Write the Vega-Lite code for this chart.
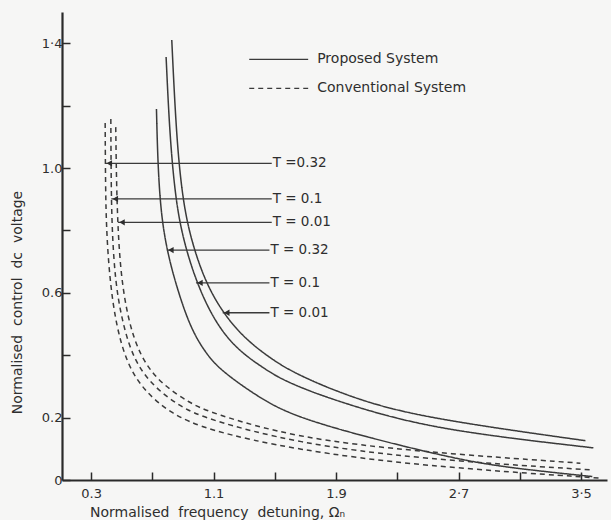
{
  "$schema": "https://vega.github.io/schema/vega-lite/v6.json",
  "width": 545,
  "height": 468,
  "autosize": {"type": "none"},
  "padding": {"left": 62, "top": 12, "right": 4, "bottom": 40},
  "background": "#f6f6f5",
  "view": {"stroke": null},
  "config": {
    "font": "DejaVu Sans",
    "text": {"font": "DejaVu Sans", "fontSize": 13, "color": "#2e2e2e"},
    "axis": {
      "labelFont": "DejaVu Sans", "titleFont": "DejaVu Sans",
      "labelFontSize": 13, "titleFontSize": 14,
      "labelColor": "#2e2e2e", "titleColor": "#2e2e2e",
      "titleFontWeight": "normal",
      "domainColor": "#2a2a2a", "domainWidth": 2.2,
      "tickColor": "#2a2a2a", "tickWidth": 1.5,
      "grid": false
    }
  },
  "datasets": {
    "curves": [
      {"system": "Proposed System", "T": "0.32", "x": 0.727, "y": 1.189},
      {"system": "Proposed System", "T": "0.32", "x": 0.735, "y": 1.03},
      {"system": "Proposed System", "T": "0.32", "x": 0.752, "y": 0.88},
      {"system": "Proposed System", "T": "0.32", "x": 0.785, "y": 0.76},
      {"system": "Proposed System", "T": "0.32", "x": 0.845, "y": 0.64},
      {"system": "Proposed System", "T": "0.32", "x": 0.945, "y": 0.49},
      {"system": "Proposed System", "T": "0.32", "x": 1.05, "y": 0.405},
      {"system": "Proposed System", "T": "0.32", "x": 1.15, "y": 0.35},
      {"system": "Proposed System", "T": "0.32", "x": 1.385, "y": 0.268},
      {"system": "Proposed System", "T": "0.32", "x": 1.614, "y": 0.205},
      {"system": "Proposed System", "T": "0.32", "x": 2.124, "y": 0.134},
      {"system": "Proposed System", "T": "0.32", "x": 2.646, "y": 0.072},
      {"system": "Proposed System", "T": "0.32", "x": 2.973, "y": 0.042},
      {"system": "Proposed System", "T": "0.32", "x": 3.574, "y": 0.011},

      {"system": "Proposed System", "T": "0.1", "x": 0.79, "y": 1.356},
      {"system": "Proposed System", "T": "0.1", "x": 0.812, "y": 1.122},
      {"system": "Proposed System", "T": "0.1", "x": 0.845, "y": 0.93},
      {"system": "Proposed System", "T": "0.1", "x": 0.89, "y": 0.79},
      {"system": "Proposed System", "T": "0.1", "x": 0.985, "y": 0.635},
      {"system": "Proposed System", "T": "0.1", "x": 1.11, "y": 0.505},
      {"system": "Proposed System", "T": "0.1", "x": 1.25, "y": 0.42},
      {"system": "Proposed System", "T": "0.1", "x": 1.42, "y": 0.36},
      {"system": "Proposed System", "T": "0.1", "x": 1.601, "y": 0.305},
      {"system": "Proposed System", "T": "0.1", "x": 2.124, "y": 0.217},
      {"system": "Proposed System", "T": "0.1", "x": 2.646, "y": 0.156},
      {"system": "Proposed System", "T": "0.1", "x": 3.581, "y": 0.103},

      {"system": "Proposed System", "T": "0.01", "x": 0.827, "y": 1.41},
      {"system": "Proposed System", "T": "0.01", "x": 0.855, "y": 1.122},
      {"system": "Proposed System", "T": "0.01", "x": 0.89, "y": 0.93},
      {"system": "Proposed System", "T": "0.01", "x": 0.94, "y": 0.79},
      {"system": "Proposed System", "T": "0.01", "x": 1.04, "y": 0.64},
      {"system": "Proposed System", "T": "0.01", "x": 1.16, "y": 0.536},
      {"system": "Proposed System", "T": "0.01", "x": 1.30, "y": 0.455},
      {"system": "Proposed System", "T": "0.01", "x": 1.47, "y": 0.39},
      {"system": "Proposed System", "T": "0.01", "x": 1.65, "y": 0.335},
      {"system": "Proposed System", "T": "0.01", "x": 2.124, "y": 0.24},
      {"system": "Proposed System", "T": "0.01", "x": 2.646, "y": 0.187},
      {"system": "Proposed System", "T": "0.01", "x": 3.529, "y": 0.126},

      {"system": "Conventional System", "T": "0.32", "x": 0.392, "y": 1.144},
      {"system": "Conventional System", "T": "0.32", "x": 0.394, "y": 0.95},
      {"system": "Conventional System", "T": "0.32", "x": 0.4, "y": 0.801},
      {"system": "Conventional System", "T": "0.32", "x": 0.422, "y": 0.641},
      {"system": "Conventional System", "T": "0.32", "x": 0.463, "y": 0.497},
      {"system": "Conventional System", "T": "0.32", "x": 0.533, "y": 0.374},
      {"system": "Conventional System", "T": "0.32", "x": 0.642, "y": 0.288},
      {"system": "Conventional System", "T": "0.32", "x": 0.816, "y": 0.214},
      {"system": "Conventional System", "T": "0.32", "x": 1.056, "y": 0.16},
      {"system": "Conventional System", "T": "0.32", "x": 1.633, "y": 0.097},
      {"system": "Conventional System", "T": "0.32", "x": 2.45, "y": 0.045},
      {"system": "Conventional System", "T": "0.32", "x": 3.627, "y": 0.006},

      {"system": "Conventional System", "T": "0.1", "x": 0.429, "y": 1.157},
      {"system": "Conventional System", "T": "0.1", "x": 0.431, "y": 0.95},
      {"system": "Conventional System", "T": "0.1", "x": 0.437, "y": 0.801},
      {"system": "Conventional System", "T": "0.1", "x": 0.457, "y": 0.641},
      {"system": "Conventional System", "T": "0.1", "x": 0.5, "y": 0.513},
      {"system": "Conventional System", "T": "0.1", "x": 0.576, "y": 0.385},
      {"system": "Conventional System", "T": "0.1", "x": 0.707, "y": 0.299},
      {"system": "Conventional System", "T": "0.1", "x": 0.882, "y": 0.235},
      {"system": "Conventional System", "T": "0.1", "x": 1.056, "y": 0.195},
      {"system": "Conventional System", "T": "0.1", "x": 1.633, "y": 0.119},
      {"system": "Conventional System", "T": "0.1", "x": 2.45, "y": 0.067},
      {"system": "Conventional System", "T": "0.1", "x": 3.58, "y": 0.032},

      {"system": "Conventional System", "T": "0.01", "x": 0.461, "y": 1.131},
      {"system": "Conventional System", "T": "0.01", "x": 0.466, "y": 0.95},
      {"system": "Conventional System", "T": "0.01", "x": 0.475, "y": 0.81},
      {"system": "Conventional System", "T": "0.01", "x": 0.494, "y": 0.66},
      {"system": "Conventional System", "T": "0.01", "x": 0.54, "y": 0.515},
      {"system": "Conventional System", "T": "0.01", "x": 0.62, "y": 0.395},
      {"system": "Conventional System", "T": "0.01", "x": 0.751, "y": 0.31},
      {"system": "Conventional System", "T": "0.01", "x": 0.947, "y": 0.246},
      {"system": "Conventional System", "T": "0.01", "x": 1.078, "y": 0.216},
      {"system": "Conventional System", "T": "0.01", "x": 1.633, "y": 0.135},
      {"system": "Conventional System", "T": "0.01", "x": 2.45, "y": 0.09},
      {"system": "Conventional System", "T": "0.01", "x": 3.496, "y": 0.054}
    ],
    "arrows": [
      {"label": "T =0.32", "tip": 0.393, "start": 1.48, "y": 1.015},
      {"label": "T = 0.1", "tip": 0.432, "start": 1.48, "y": 0.901},
      {"label": "T = 0.01", "tip": 0.476, "start": 1.48, "y": 0.826},
      {"label": "T = 0.32", "tip": 0.795, "start": 1.465, "y": 0.737},
      {"label": "T = 0.1", "tip": 0.985, "start": 1.465, "y": 0.632},
      {"label": "T = 0.01", "tip": 1.16, "start": 1.465, "y": 0.536}
    ],
    "legend": [
      {"system": "Proposed System", "x1": 1.333, "x2": 1.718, "y": 1.348},
      {"system": "Conventional System", "x1": 1.333, "x2": 1.718, "y": 1.255}
    ]
  },
  "layer": [
    {
      "mark": {"type": "rule", "color": "#2a2a2a", "strokeWidth": 2.5},
      "encoding": {"y": {"datum": 1.5, "type": "quantitative"}}
    },
    {
      "data": {"name": "curves"},
      "mark": {"type": "line", "interpolate": "basis", "color": "#3a3a3a", "strokeWidth": 1.5},
      "encoding": {
        "x": {
          "field": "x", "type": "quantitative",
          "scale": {"domain": [0.11, 3.67], "nice": false, "zero": false},
          "axis": {
            "values": [0.3, 0.7, 1.1, 1.5, 1.9, 2.3, 2.7, 3.1, 3.5],
            "labelExpr": "abs(datum.value-0.3)<0.01 ? '0.3' : abs(datum.value-1.1)<0.01 ? '1.1' : abs(datum.value-1.9)<0.01 ? '1.9' : abs(datum.value-2.7)<0.01 ? '2·7' : abs(datum.value-3.5)<0.01 ? '3·5' : ''",
            "tickSize": -8, "labelPadding": 15,
            "title": "Normalised\u00a0\u00a0frequency\u00a0\u00a0detuning,\u00a0Ωₙ",
            "titleX": 155, "titleY": 32, "titleAnchor": "middle", "titleBaseline": "middle"
          }
        },
        "y": {
          "field": "y", "type": "quantitative",
          "scale": {"domain": [0, 1.5], "nice": false},
          "axis": {
            "values": [0, 0.2, 0.4, 0.6, 0.8, 1.0, 1.2, 1.4],
            "labelExpr": "datum.value == 0 ? '0' : abs(datum.value-0.2)<0.01 ? '0.2' : abs(datum.value-0.6)<0.01 ? '0.6' : abs(datum.value-1)<0.01 ? '1.0' : abs(datum.value-1.4)<0.01 ? '1·4' : ''",
            "tickSize": -8, "labelPadding": 8,
            "title": "Normalised\u00a0\u00a0control\u00a0\u00a0dc\u00a0\u00a0voltage",
            "titleX": -45, "titleY": 290, "titleAngle": -90, "titleBaseline": "middle", "titleAnchor": "middle"
          }
        },
        "detail": {"field": "T"},
        "strokeDash": {
          "field": "system", "type": "nominal",
          "scale": {"domain": ["Proposed System", "Conventional System"], "range": [[1, 0], [5, 4]]},
          "legend": null
        }
      }
    },
    {
      "data": {"name": "arrows"},
      "mark": {"type": "rule", "color": "#3a3a3a", "strokeWidth": 1.3},
      "encoding": {
        "x": {"field": "tip", "type": "quantitative"},
        "x2": {"field": "start"},
        "y": {"field": "y", "type": "quantitative"}
      }
    },
    {
      "data": {"name": "arrows"},
      "mark": {"type": "point", "shape": "triangle-left", "filled": true, "color": "#2e2e2e", "size": 40, "opacity": 1, "xOffset": 4},
      "encoding": {
        "x": {"field": "tip", "type": "quantitative"},
        "y": {"field": "y", "type": "quantitative"}
      }
    },
    {
      "data": {"name": "arrows"},
      "mark": {"type": "text", "align": "left", "baseline": "middle", "dx": 1, "fontSize": 13.5},
      "encoding": {
        "x": {"field": "start", "type": "quantitative"},
        "y": {"field": "y", "type": "quantitative"},
        "text": {"field": "label"}
      }
    },
    {
      "data": {"name": "legend"},
      "mark": {"type": "rule", "color": "#3a3a3a", "strokeWidth": 1.3},
      "encoding": {
        "x": {"field": "x1", "type": "quantitative"},
        "x2": {"field": "x2"},
        "y": {"field": "y", "type": "quantitative"},
        "strokeDash": {
          "field": "system", "type": "nominal",
          "scale": {"domain": ["Proposed System", "Conventional System"], "range": [[1, 0], [5, 4]]},
          "legend": null
        }
      }
    },
    {
      "data": {"name": "legend"},
      "mark": {"type": "text", "align": "left", "baseline": "middle", "dx": 9, "fontSize": 14},
      "encoding": {
        "x": {"field": "x2", "type": "quantitative"},
        "y": {"field": "y", "type": "quantitative"},
        "text": {"field": "system"}
      }
    }
  ]
}
